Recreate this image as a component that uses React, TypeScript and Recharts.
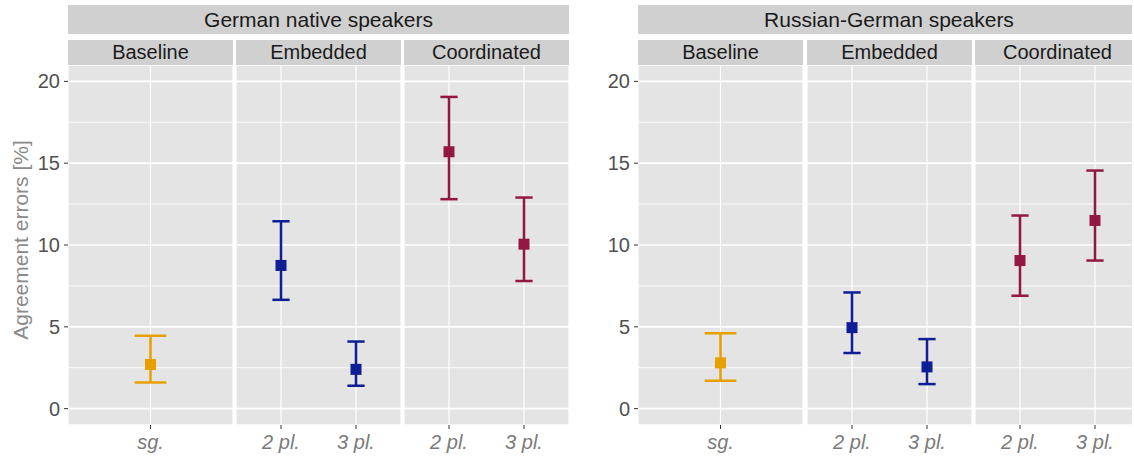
import { ScatterChart, Scatter, XAxis, YAxis, CartesianGrid, ErrorBar } from 'recharts'

const groups = ['German native speakers', 'Russian-German speakers']
const conditions = ['Baseline', 'Embedded', 'Coordinated']
const levels = [['sg.'], ['2 pl.', '3 pl.'], ['2 pl.', '3 pl.']]

// one value per level, in order: sg., emb 2 pl., emb 3 pl., coord 2 pl., coord 3 pl.
const germanMean = [2.7, 8.75, 2.4, 15.7, 10.05]
const germanLower = [1.6, 6.65, 1.4, 12.8, 7.8]
const germanUpper = [4.45, 11.45, 4.1, 19.05, 12.9]

const russianMean = [2.8, 4.95, 2.55, 9.05, 11.5]
const russianLower = [1.7, 3.4, 1.5, 6.9, 9.05]
const russianUpper = [4.6, 7.1, 4.25, 11.8, 14.55]

const yTicks = [0, 5, 10, 15, 20]
const yMinor = [2.5, 7.5, 12.5, 17.5]
const yDomain = [-1, 21]

const colors = ['#E8A000', '#0F1E94', '#921843']

const FONT = '"Liberation Sans", Arial, Helvetica, sans-serif'
const PANEL_TOP = 65
const PANEL_H = 360
const PANEL_W = 165
const AXIS_W = 60
const X_AXIS_H = 40
const STRIP_BG = '#D0D0D0'
const PANEL_BG = '#E4E4E4'

const layouts = [
  { strip: [68, 569], panels: [68, 236, 404] },
  { strip: [638, 1140], panels: [638, 807, 975] },
]

const series = [
  { mean: germanMean, lower: germanLower, upper: germanUpper },
  { mean: russianMean, lower: russianLower, upper: russianUpper },
]

interface PanelProps {
  labels: string[]
  mean: number[]
  lower: number[]
  upper: number[]
  color: string
  left: number
  showAxis: boolean
}

function Panel({ labels, mean, lower, upper, color, left, showAxis }: PanelProps) {
  const data = labels.map((_, i) => ({
    x: i + 1,
    y: mean[i],
    err: [mean[i] - lower[i], upper[i] - mean[i]],
  }))
  const n = labels.length
  const pxPerUnit = PANEL_W / (n + 0.2)
  const yw = showAxis ? AXIS_W : 0
  return (
    <div style={{ position: 'absolute', left: left - yw, top: PANEL_TOP }}>
      <ScatterChart width={PANEL_W + yw} height={PANEL_H + X_AXIS_H} margin={{ top: 0, right: 0, bottom: 0, left: 0 }}>
        <CartesianGrid horizontalValues={yMinor} vertical={false} stroke="#fff" strokeWidth={0.8} fill={PANEL_BG} fillOpacity={1} />
        <CartesianGrid vertical={false} stroke="#fff" strokeWidth={1.7} />
        <CartesianGrid horizontal={false} stroke="#fff" strokeWidth={1.2} />
        <XAxis
          type="number"
          dataKey="x"
          domain={[0.4, n + 0.6]}
          ticks={data.map(d => d.x)}
          tickFormatter={v => labels[Number(v) - 1]}
          interval={0}
          allowDataOverflow
          axisLine={false}
          tickSize={4}
          tickLine={{ stroke: '#333' }}
          tickMargin={6}
          height={X_AXIS_H}
          tick={{ fill: '#7A7A7A', fontSize: 20, fontStyle: 'italic', fontFamily: FONT }}
        />
        <YAxis
          type="number"
          dataKey="y"
          domain={yDomain}
          ticks={yTicks}
          interval={0}
          allowDataOverflow
          hide={!showAxis}
          width={AXIS_W}
          axisLine={false}
          tickSize={4}
          tickLine={{ stroke: '#333' }}
          tickMargin={4}
          tick={{ fill: '#505050', fontSize: 20, fontFamily: FONT }}
        />
        <Scatter
          data={data}
          isAnimationActive={false}
          shape={(p: any) => <rect x={p.cx - 5.5} y={p.cy - 5.5} width={11} height={11} fill={color} />}
        >
          <ErrorBar dataKey="err" direction="y" width={0.115 * pxPerUnit} stroke={color} strokeWidth={2.5} />
        </Scatter>
      </ScatterChart>
    </div>
  )
}

const stripStyle = (left: number, top: number, width: number, height: number, fontSize: number) => ({
  position: 'absolute' as const,
  left,
  top,
  width,
  height,
  lineHeight: `${height}px`,
  background: STRIP_BG,
  color: '#1A1A1A',
  fontSize,
  fontFamily: FONT,
  textAlign: 'center' as const,
  whiteSpace: 'nowrap' as const,
})

export default function App() {
  let offset = 0
  const starts = levels.map(l => {
    const s = offset
    offset += l.length
    return s
  })
  return (
    <div style={{ position: 'fixed', left: 0, top: 0, width: 1132, height: 461, overflow: 'hidden', background: '#fff' }}>
      <div
        style={{
          position: 'absolute',
          left: 21,
          top: 240,
          transform: 'translate(-50%, -50%) rotate(-90deg)',
          whiteSpace: 'nowrap',
          fontSize: 21,
          fontFamily: FONT,
          color: '#8A8A8A',
        }}
      >
        Agreement errors [%]
      </div>
      {groups.map((g, gi) => {
        const lay = layouts[gi]
        const s = series[gi]
        return (
          <div key={g}>
            <div style={stripStyle(lay.strip[0], 5, lay.strip[1] - lay.strip[0], 29, 21)}>{g}</div>
            {conditions.map((c, ci) => (
              <div key={c} style={stripStyle(lay.panels[ci], 40, PANEL_W, 25, 20)}>{c}</div>
            ))}
            {conditions.map((c, ci) => {
              const a = starts[ci]
              const b = a + levels[ci].length
              return (
                <Panel
                  key={c}
                  labels={levels[ci]}
                  mean={s.mean.slice(a, b)}
                  lower={s.lower.slice(a, b)}
                  upper={s.upper.slice(a, b)}
                  color={colors[ci]}
                  left={lay.panels[ci]}
                  showAxis={ci === 0}
                />
              )
            })}
          </div>
        )
      })}
    </div>
  )
}
